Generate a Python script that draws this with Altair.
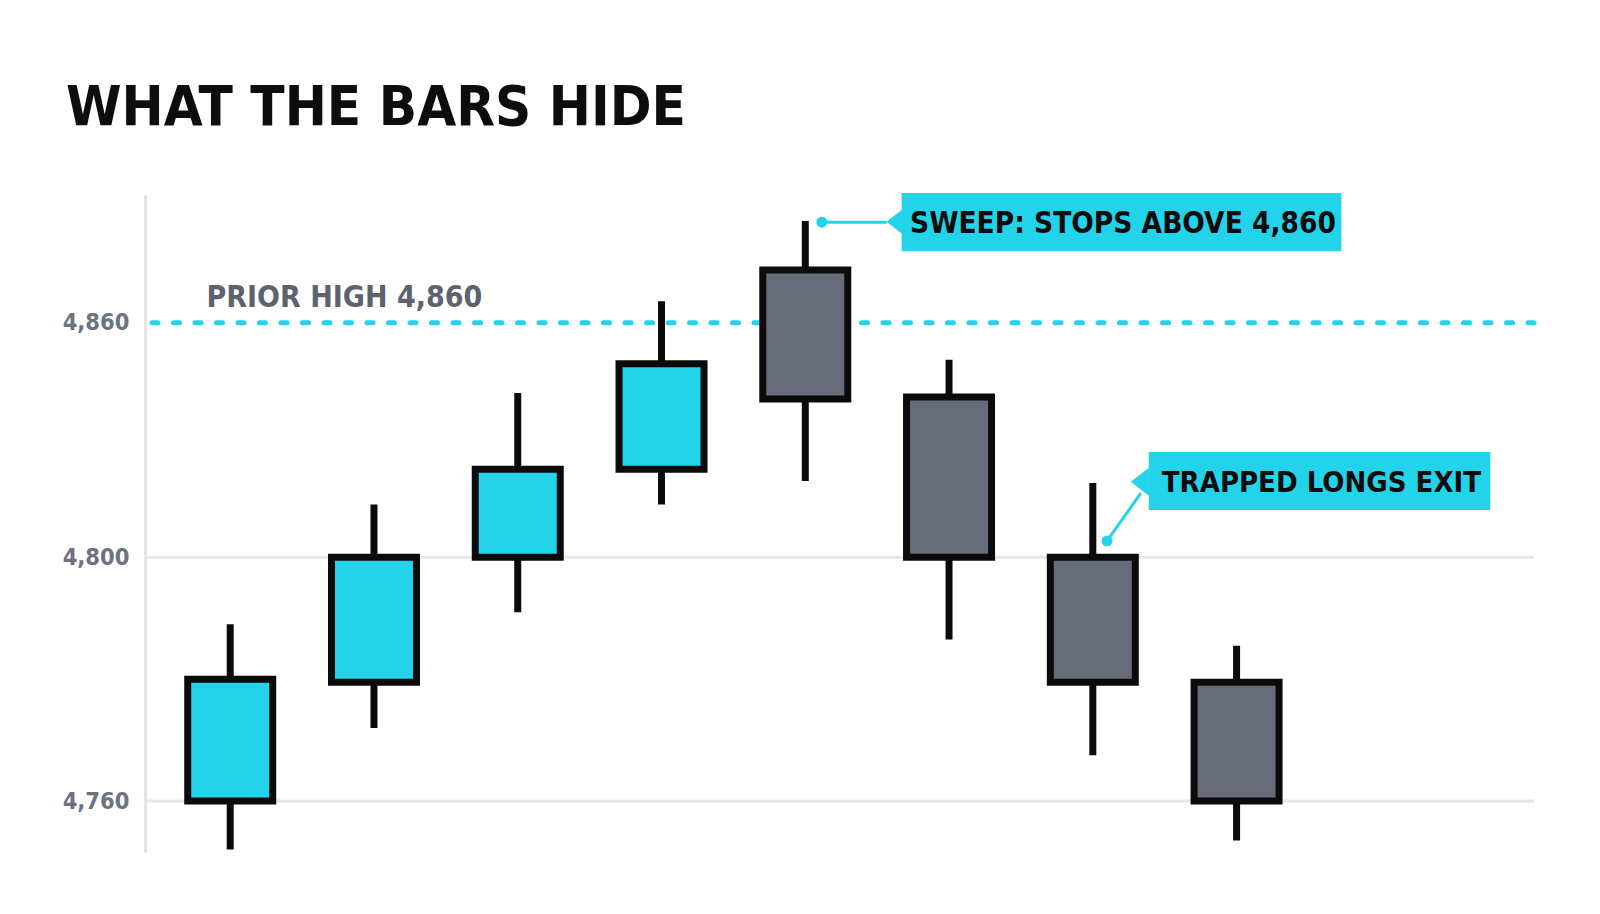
import altair as alt
import pandas as pd

# ---- data ----
idx = [1, 2, 3, 4, 5, 6, 7, 8]
open_ = [4760, 4779.5, 4800, 4822.5, 4873.5, 4841, 4800, 4779.5]
high = [4789, 4813.5, 4842, 4865.5, 4886, 4850.5, 4819, 4785.5]
low = [4752, 4772, 4791, 4813.5, 4819.5, 4786.5, 4767.5, 4753.5]
close = [4780, 4800, 4822.5, 4849.5, 4840.5, 4800, 4779.5, 4760]

tick_values = [4760, 4800, 4860]
grid_values = [4760, 4800]
prior_high = 4860

title_text = "WHAT THE BARS HIDE"
prior_label = "PRIOR HIGH 4,860"

# callouts (positions in data units: candle index / price)
callout_text = ["SWEEP: STOPS ABOVE 4,860", "TRAPPED LONGS EXIT"]
callout_x1 = [5.670, 7.389]
callout_x2 = [8.729, 9.765]
callout_y1 = [4893.2, 4826.9]
callout_y2 = [4878.3, 4812.1]
callout_tx = [7.21, 8.59]
callout_ty = [4883.0, 4816.7]
callout_size = [29.5, 29]
pointer_x = [5.628, 7.327]
pointer_y = [4885.8, 4819.3]
leader_x1 = [5.115, 7.099]
leader_y1 = [4885.7, 4804.2]
leader_x2 = [5.566, 7.334]
leader_y2 = [4885.7, 4816.4]

FONT = "'Liberation Sans Narrow', 'DejaVu Sans Condensed', 'Roboto Condensed', 'Open Sans Condensed', Roboto, sans-serif"
CYAN = "#22d3ea"
GREY = "#666d79"
INK = "#0b0b0b"

df = pd.DataFrame({"i": idx, "open": open_, "high": high, "low": low, "close": close})
df["dir"] = ["up" if c >= o else "down" for o, c in zip(open_, close)]
callouts = pd.DataFrame({
    "text": callout_text, "x1": callout_x1, "x2": callout_x2,
    "y1": callout_y1, "y2": callout_y2, "tx": callout_tx, "ty": callout_ty,
    "fs": callout_size, "px": pointer_x, "py": pointer_y,
    "lx1": leader_x1, "ly1": leader_y1, "lx2": leader_x2, "ly2": leader_y2,
})

PLOT_W = 1389
PLOT_H = 657
x_scale = alt.Scale(domain=[0.442, 10.034], nice=False, zero=False)
# piecewise price scale (uneven spacing as drawn)
y_scale = alt.Scale(domain=[4751.6, 4760, 4800, 4860, 4892.66],
                    range=[657, 606, 362.3, 127.7, 0], nice=False, zero=False)

X = lambda f: alt.X(f, type="quantitative", scale=x_scale, axis=None)
Y_axis = alt.Axis(values=tick_values, format=",d", grid=False, ticks=False,
                  labelFont=FONT, labelFontSize=23.5, labelFontWeight="bold",
                  labelColor="#6b7280", labelPadding=16, domainColor="#e3e4e6",
                  domainWidth=3, title=None)

base = alt.Chart(df)

grid = alt.Chart(pd.DataFrame({"v": grid_values})).mark_rule(
    color="#e5e6e8", strokeWidth=3
).encode(y=alt.Y("v:Q", scale=y_scale, axis=Y_axis))

dashed = alt.Chart(pd.DataFrame({"v": [prior_high]})).mark_rule(
    color=CYAN, strokeWidth=5, strokeDash=[6, 15.5], strokeCap="round"
).encode(y=alt.Y("v:Q", scale=y_scale))

prior = alt.Chart(pd.DataFrame({"x": [0.835], "y": [4863.9], "t": [prior_label]})).mark_text(
    font=FONT, fontSize=30, fontWeight="bold", color="#5c636e", align="left", baseline="alphabetic"
).encode(x=X("x"), y=alt.Y("y:Q", scale=y_scale), text="t:N")

wicks = base.mark_rule(color=INK, strokeWidth=7).encode(
    x=X("i"), y=alt.Y("low:Q", scale=y_scale), y2="high:Q"
)

bodies = base.mark_bar(size=85, stroke=INK, strokeWidth=7, cornerRadius=0).encode(
    x=X("i"), y=alt.Y("open:Q", scale=y_scale), y2="close:Q",
    color=alt.Color("dir:N", scale=alt.Scale(domain=["up", "down"], range=[CYAN, GREY]), legend=None),
)

cbase = alt.Chart(callouts)
leaders = cbase.mark_rule(color=CYAN, strokeWidth=3).encode(
    x=X("lx1"), x2="lx2:Q", y=alt.Y("ly1:Q", scale=y_scale), y2="ly2:Q"
)
dots = cbase.mark_circle(color=CYAN, size=120, opacity=1).encode(
    x=X("lx1"), y=alt.Y("ly1:Q", scale=y_scale)
)
boxes = cbase.mark_rect(color=CYAN).encode(
    x=X("x1"), x2="x2:Q", y=alt.Y("y1:Q", scale=y_scale), y2="y2:Q"
)
pointers = cbase.mark_point(
    shape="M0.65,-1L-0.65,0L0.65,1Z", size=784, filled=True, color=CYAN, opacity=1, strokeWidth=0
).encode(x=X("px"), y=alt.Y("py:Q", scale=y_scale))
labels = cbase.mark_text(
    font=FONT, fontWeight="bold", color=INK, align="center", baseline="alphabetic"
).encode(x=X("tx"), y=alt.Y("ty:Q", scale=y_scale), text="text:N",
         size=alt.Size("fs:Q", scale=None, legend=None))

chart = alt.layer(
    grid, dashed, prior, wicks, bodies, leaders, dots, boxes, pointers, labels
).properties(
    width=PLOT_W, height=PLOT_H,
    title=alt.TitleParams(title_text, anchor="start", frame="group", font=FONT,
                          fontSize=56, fontWeight="bold", color="#0d0d0d",
                          baseline="alphabetic", offset=70, dy=58, dx=-79),
    autosize=alt.AutoSizeParams(type="none"),
    padding={"left": 137, "top": 187, "right": 40, "bottom": 40},
).configure(background="white").configure_view(strokeWidth=0)

chart.save("out.html", embed_options={"renderer": "svg", "actions": False})
